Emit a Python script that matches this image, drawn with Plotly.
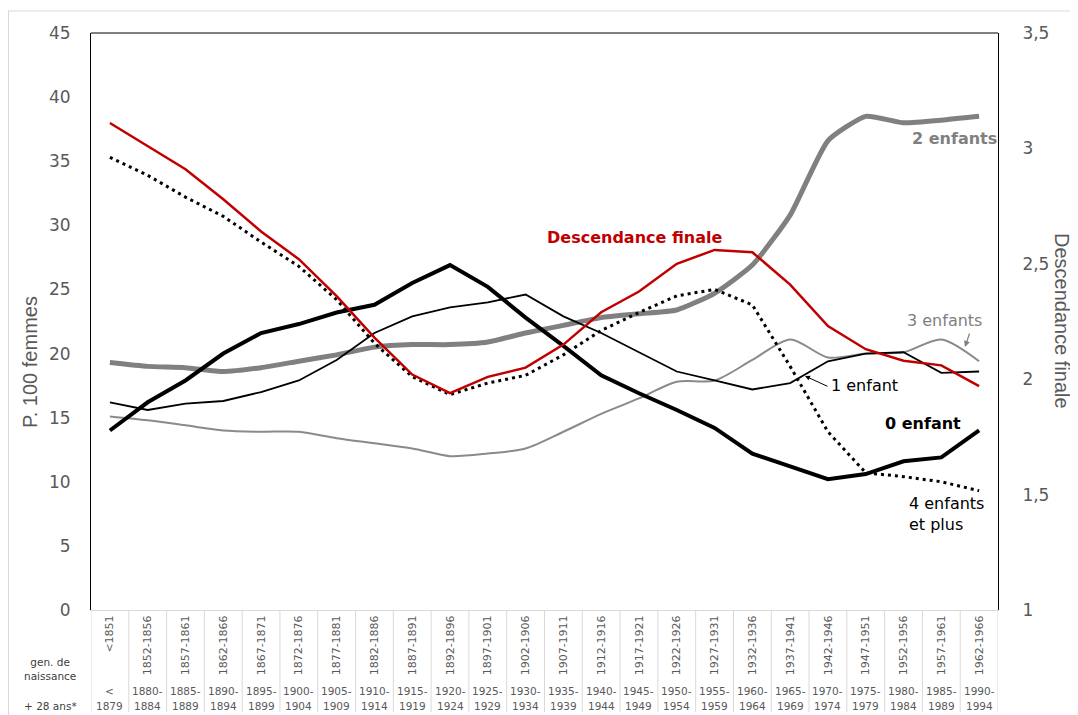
import plotly.graph_objects as go

# ---------------- data ----------------
categories = ["<1851", "1852-1856", "1857-1861", "1862-1866", "1867-1871", "1872-1876",
              "1877-1881", "1882-1886", "1887-1891", "1892-1896", "1897-1901", "1902-1906",
              "1907-1911", "1912-1916", "1917-1921", "1922-1926", "1927-1931", "1932-1936",
              "1937-1941", "1942-1946", "1947-1951", "1952-1956", "1957-1961", "1962-1966"]

period_top = ["<", "1880-", "1885-", "1890-", "1895-", "1900-", "1905-", "1910-", "1915-",
              "1920-", "1925-", "1930-", "1935-", "1940-", "1945-", "1950-", "1955-", "1960-",
              "1965-", "1970-", "1975-", "1980-", "1985-", "1990-"]
period_bottom = ["1879", "1884", "1889", "1894", "1899", "1904", "1909", "1914", "1919",
                 "1924", "1929", "1934", "1939", "1944", "1949", "1954", "1959", "1964",
                 "1969", "1974", "1979", "1984", "1989", "1994"]

zero_child = [14.0, 16.2, 17.9, 20.0, 21.6, 22.3, 23.2, 23.8, 25.5, 26.9, 25.2, 22.8,
              20.6, 18.3, 16.9, 15.6, 14.2, 12.2, 11.2, 10.2, 10.6, 11.6, 11.9, 14.0]
one_child = [16.2, 15.6, 16.1, 16.3, 17.0, 17.9, 19.5, 21.6, 22.9, 23.6, 24.0, 24.6,
             22.9, 21.6, 20.1, 18.6, 17.9, 17.2, 17.7, 19.4, 20.0, 20.1, 18.5, 18.6]
two_children = [19.3, 19.0, 18.9, 18.6, 18.9, 19.4, 19.9, 20.5, 20.7, 20.7, 20.9, 21.6,
                22.2, 22.8, 23.1, 23.4, 24.7, 26.9, 30.8, 36.6, 38.5, 38.0, 38.2, 38.5]
three_children = [15.1, 14.8, 14.4, 14.0, 13.9, 13.9, 13.4, 13.0, 12.6, 12.0, 12.2, 12.6,
                  13.9, 15.3, 16.5, 17.8, 17.9, 19.5, 21.1, 19.7, 20.0, 20.1, 21.1, 19.4]
four_plus = [35.3, 33.9, 32.2, 30.7, 28.7, 26.8, 24.2, 20.8, 18.2, 16.8, 17.7, 18.3,
             19.9, 21.8, 23.2, 24.5, 25.0, 23.8, 19.0, 13.9, 10.7, 10.4, 10.0, 9.3]
completed_fertility = [3.11, 3.01, 2.91, 2.78, 2.64, 2.52, 2.36, 2.18, 2.02, 1.94, 2.01, 2.05,
                       2.15, 2.29, 2.38, 2.50, 2.56, 2.55, 2.41, 2.23, 2.13, 2.08, 2.06, 1.97]

FONT = "DejaVu Sans"
TICK = "#595959"
RED = "#C00000"
GRAY = "#808080"

fig = go.Figure()

fig.add_trace(go.Scatter(x=categories, y=three_children, mode="lines",
                         line=dict(color="#8a8a8a", width=2, shape="spline", smoothing=0.8)))
fig.add_trace(go.Scatter(x=categories, y=two_children, mode="lines",
                         line=dict(color=GRAY, width=5, shape="spline", smoothing=0.5)))
fig.add_trace(go.Scatter(x=categories, y=one_child, mode="lines",
                         line=dict(color="black", width=1.8)))
fig.add_trace(go.Scatter(x=categories, y=four_plus, mode="lines",
                         line=dict(color="black", width=3, dash="3px,4px")))
fig.add_trace(go.Scatter(x=categories, y=zero_child, mode="lines",
                         line=dict(color="black", width=4)))
fig.add_trace(go.Scatter(x=categories, y=completed_fertility, mode="lines", yaxis="y2",
                         line=dict(color=RED, width=2.5)))

# The page body has an 8px margin: the figure is drawn from page pixel (8, 8).
OFF = 8
W, H = 1078 - OFF, 715 - OFF
PL, PT, PR, PB = 91, 33, 998, 610          # plot area in page pixels
pw, ph = PR - PL, PB - PT
L, T = PL - OFF, PT - OFF
R, B = W - L - pw, H - T - ph


def px_x(px):
    return (px - PL) / pw


def px_y(py):
    return (PB - py) / ph


ann = []
# in-plot labels
ann.append(dict(text="<b>Descendance finale</b>", x=px_x(634.5), y=px_y(237),
                font=dict(color=RED, size=16, family=FONT)))
ann.append(dict(text="<b>2 enfants</b>", x=px_x(954.5), y=px_y(138),
                font=dict(color=GRAY, size=16, family=FONT)))
ann.append(dict(text="3 enfants", x=px_x(944), y=px_y(320),
                font=dict(color=GRAY, size=16, family=FONT)))
ann.append(dict(text="1 enfant", x=px_x(864), y=px_y(385),
                font=dict(color="black", size=16, family=FONT)))
ann.append(dict(text="<b>0 enfant</b>", x=px_x(923), y=px_y(423),
                font=dict(color="black", size=16, family=FONT)))
ann.append(dict(text="4 enfants<br>et plus", x=px_x(907), y=px_y(513.5), xanchor="left",
                align="left", font=dict(color="black", size=16, family=FONT)))
for a in ann:
    a.update(xref="paper", yref="paper", showarrow=False)
    a.setdefault("xanchor", "center")
    a.setdefault("yanchor", "middle")

# arrows
ann.append(dict(text="", xref="paper", yref="paper", x=px_x(965), y=px_y(347),
                showarrow=True, ax=5, ay=-15, arrowhead=2, arrowsize=1, arrowwidth=1.2,
                arrowcolor=GRAY))
ann.append(dict(text="", xref="paper", yref="paper", x=px_x(805), y=px_y(376),
                showarrow=True, ax=24, ay=11, arrowhead=2, arrowsize=1, arrowwidth=1,
                arrowcolor="black"))

# axis titles
ann.append(dict(text="P. 100 femmes", xref="paper", yref="paper", x=px_x(30), y=px_y(362),
                textangle=-90, showarrow=False, xanchor="center", yanchor="middle",
                font=dict(color=TICK, size=20, family="Liberation Sans")))
ann.append(dict(text="Descendance finale", xref="paper", yref="paper", x=px_x(1062),
                y=px_y(321), textangle=90, showarrow=False, xanchor="center",
                yanchor="middle", font=dict(color=TICK, size=20, family="Liberation Sans")))

# second row of x labels (periods + 28 years)
for c, t1, t2 in zip(categories, period_top, period_bottom):
    ann.append(dict(text=t1.replace("<", "&lt;"), x=c, xref="x", yref="paper",
                    y=px_y(691), showarrow=False, xanchor="center", yanchor="middle",
                    font=dict(color=TICK, size=10.5, family=FONT)))
    ann.append(dict(text=t2, x=c, xref="x", yref="paper", y=px_y(706), showarrow=False,
                    xanchor="center", yanchor="middle",
                    font=dict(color=TICK, size=10.5, family=FONT)))

ann.append(dict(text="gen. de<br>naissance", xref="paper", yref="paper", x=px_x(50),
                y=px_y(669), showarrow=False, xanchor="center", yanchor="middle",
                font=dict(color="#404040", size=10.5, family=FONT)))
ann.append(dict(text="+ 28 ans*", xref="paper", yref="paper", x=px_x(50), y=px_y(706),
                showarrow=False, xanchor="center", yanchor="middle",
                font=dict(color="#404040", size=10.5, family=FONT)))

shapes = []
# table separators under the plot
for i in range(len(categories) + 1):
    shapes.append(dict(type="line", xref="x", yref="paper", x0=i - 0.5, x1=i - 0.5,
                       y0=0, y1=px_y(712), line=dict(color="#d9d9d9", width=1)))
# plot top border
shapes.append(dict(type="line", xref="paper", yref="paper", x0=0, x1=1, y0=1, y1=1,
                   line=dict(color="black", width=1)))
# outer chart border
shapes.append(dict(type="line", xref="paper", yref="paper", x0=px_x(8), x1=px_x(1078),
                   y0=px_y(11), y1=px_y(11), line=dict(color="#d9d9d9", width=1)))
shapes.append(dict(type="line", xref="paper", yref="paper", x0=px_x(8.5), x1=px_x(8.5),
                   y0=px_y(11), y1=px_y(715), line=dict(color="#d9d9d9", width=1)))

fig.update_layout(
    width=W, height=H,
    margin=dict(l=L, r=R, t=T, b=B, pad=0),
    paper_bgcolor="white", plot_bgcolor="white",
    showlegend=False,
    separators=", ",
    font=dict(family=FONT, color=TICK),
    xaxis=dict(type="category", range=[-0.5, len(categories) - 0.5],
               tickvals=categories, ticktext=[c.replace("<", "&lt;") for c in categories],
               tickangle=-90, tickfont=dict(size=11, color=TICK, family=FONT),
               showgrid=False, zeroline=False, showline=True, linecolor="#d9d9d9",
               linewidth=1, ticks="", fixedrange=True),
    yaxis=dict(range=[0, 45], dtick=5, showgrid=False, zeroline=False,
               showline=True, linecolor="black", linewidth=1, mirror=False, ticks="",
               tickfont=dict(size=17, color=TICK, family=FONT), ticklabelstandoff=16),
    yaxis2=dict(range=[1, 3.5], dtick=0.5, overlaying="y", side="right",
                showgrid=False, zeroline=False, showline=True, linecolor="black",
                linewidth=1, ticks="", tickfont=dict(size=17, color=TICK, family=FONT),
                ticklabelstandoff=20),
    annotations=ann,
    shapes=shapes,
)

fig.write_html("out.html")
